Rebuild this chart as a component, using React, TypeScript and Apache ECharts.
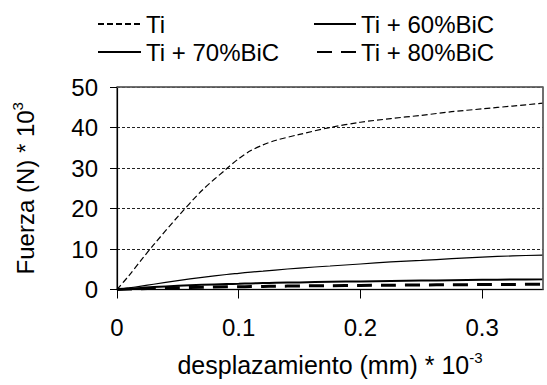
import React, { useEffect, useRef } from "react";
import * as echarts from "echarts";

const xValues = [0, 0.01, 0.02, 0.03, 0.05, 0.07, 0.09, 0.1, 0.11, 0.12, 0.13, 0.15, 0.175, 0.2, 0.225, 0.25, 0.275, 0.3, 0.325, 0.35];
const tiValues = [0, 3.5, 7.3, 11, 18, 24.5, 29.8, 32.3, 34.3, 35.7, 36.8, 38.3, 40, 41.3, 42.2, 43.0, 43.9, 44.6, 45.3, 46.0];
const ti60Values = [0, 0.4, 0.85, 1.3, 2.2, 3.0, 3.7, 4.0, 4.3, 4.55, 4.8, 5.3, 5.8, 6.3, 6.8, 7.2, 7.6, 8.0, 8.3, 8.5];
const ti70Values = [0, 0.2, 0.4, 0.6, 0.9, 1.15, 1.35, 1.42, 1.5, 1.58, 1.65, 1.75, 1.9, 2.0, 2.1, 2.2, 2.3, 2.4, 2.45, 2.5];
const ti80Values = [0, 0.1, 0.2, 0.3, 0.45, 0.55, 0.65, 0.69, 0.72, 0.76, 0.8, 0.87, 0.95, 1.0, 1.07, 1.12, 1.17, 1.22, 1.26, 1.3];
const seriesNames = ["Ti", "Ti + 60%BiC", "Ti + 70%BiC", "Ti + 80%BiC"];
const xTicks = [0, 0.1, 0.2, 0.3];
const xMax = 0.35;
const yMax = 50;

const FONT = "Liberation Sans, Arial, sans-serif";

function pairs(ys: number[]) {
  return xValues.map((x, i) => [x, ys[i]]);
}

export default function App() {
  const ref = useRef<HTMLDivElement>(null);
  useEffect(() => {
    if (!ref.current) return;
    const chart = echarts.init(ref.current, undefined, { renderer: "svg" });
    const legendBase = {
      orient: "horizontal",
      itemHeight: 14,
      padding: 0,
      textStyle: { fontFamily: FONT, fontSize: 24, color: "#000" },
      itemStyle: { opacity: 0, borderWidth: 0 },
      selectedMode: false,
    };
    chart.setOption({
      animation: false,
      backgroundColor: "#fff",
      textStyle: { fontFamily: FONT },
      legend: [
        { ...legendBase, data: [seriesNames[0]], left: 97, top: 12, itemWidth: 43 },
        { ...legendBase, data: [seriesNames[1]], left: 313, top: 12, itemWidth: 42 },
        { ...legendBase, data: [seriesNames[2]], left: 97, top: 40, itemWidth: 43 },
        { ...legendBase, data: [seriesNames[3]], left: 316, top: 40, itemWidth: 39 },
      ],
      grid: {
        left: 117,
        right: 4,
        top: 87,
        bottom: 95.5,
        show: true,
        borderColor: "#666",
        borderWidth: 1.5,
        backgroundColor: "transparent",
        outerBoundsMode: "none",
        containLabel: false,
      },
      xAxis: {
        type: "value",
        min: 0,
        max: xMax,
        interval: 0.1,
        axisLine: { show: true, lineStyle: { color: "#000", width: 1.2 } },
        axisTick: { show: true, length: 9, lineStyle: { color: "#000" }, customValues: xTicks },
        axisLabel: {
          customValues: xTicks,
          margin: 26,
          fontSize: 24,
          color: "#000",
          fontFamily: FONT,
          formatter: (v: number) => (v === 0 ? "0" : String(Math.round(v * 10) / 10)),
        },
        splitLine: { show: false },
        name: "{a|desplazamiento (mm) * 10}{sup|-3}",
        nameLocation: "middle",
        nameGap: 60,
        nameTextStyle: {
          fontFamily: FONT,
          color: "#000",
          rich: {
            a: { fontSize: 25, fontFamily: FONT, color: "#000", lineHeight: 30 },
            sup: { fontSize: 15, fontFamily: FONT, color: "#000", verticalAlign: "top", lineHeight: 16 },
          },
        },
      },
      yAxis: {
        type: "value",
        min: 0,
        max: yMax,
        interval: 10,
        axisLine: { show: true, lineStyle: { color: "#000", width: 1.2 } },
        axisTick: { show: true, length: 7, lineStyle: { color: "#000" } },
        axisLabel: { margin: 19, fontSize: 24, color: "#000", fontFamily: FONT },
        splitLine: {
          show: true,
          lineStyle: { color: "#222", type: [3, 2], width: 1 },
        },
        name: "{a|Fuerza (N) * 10}{sup|3}",
        nameLocation: "middle",
        nameRotate: 90,
        nameGap: 77,
        nameTextStyle: {
          fontFamily: FONT,
          color: "#000",
          rich: {
            a: { fontSize: 24, fontFamily: FONT, color: "#000", lineHeight: 30 },
            sup: { fontSize: 15, fontFamily: FONT, color: "#000", verticalAlign: "top", lineHeight: 16 },
          },
        },
      },
      series: [
        {
          name: seriesNames[0],
          type: "line",
          data: pairs(tiValues),
          symbol: "none",
          smooth: 0.3,
          clip: false,
          lineStyle: { color: "#000", width: 1.2, type: [6, 3] },
          itemStyle: { color: "#000" },
          markLine: {
            silent: true,
            symbol: "none",
            label: { show: false },
            lineStyle: { color: "#666", width: 1.5, type: "solid" },
            data: [{ yAxis: yMax }, { xAxis: xMax }],
          },
        },
        {
          name: seriesNames[1],
          type: "line",
          data: pairs(ti60Values),
          symbol: "none",
          smooth: 0.3,
          lineStyle: { color: "#000", width: 1.2, type: "solid" },
          itemStyle: { color: "#000" },
        },
        {
          name: seriesNames[2],
          type: "line",
          data: pairs(ti70Values),
          symbol: "none",
          smooth: 0.3,
          lineStyle: { color: "#000", width: 2, type: "solid" },
          itemStyle: { color: "#000" },
        },
        {
          name: seriesNames[3],
          type: "line",
          data: pairs(ti80Values),
          symbol: "none",
          smooth: 0.3,
          lineStyle: { color: "#000", width: 3, type: [15, 9] },
          itemStyle: { color: "#000" },
        },
      ],
    });
    return () => chart.dispose();
  }, []);
  return (
    <div
      ref={ref}
      style={{ position: "fixed", left: 0, top: 0, width: 547, height: 385, background: "#fff" }}
    />
  );
}
